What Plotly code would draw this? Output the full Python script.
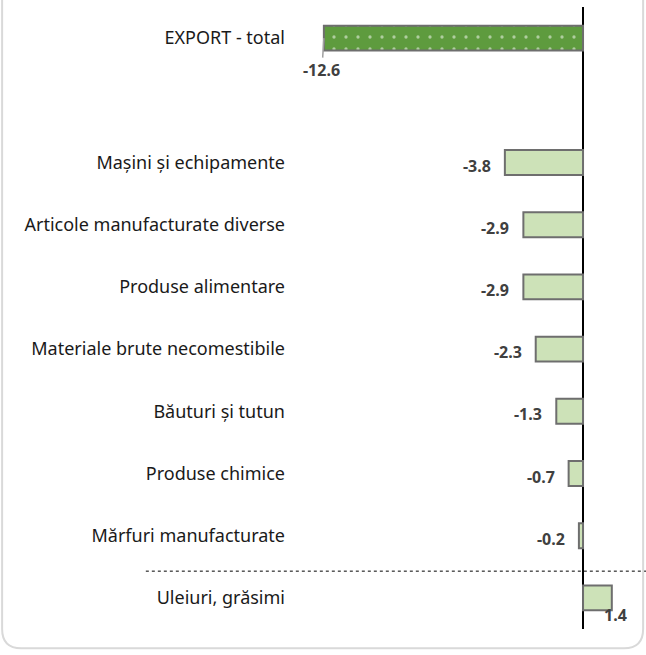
import plotly.graph_objects as go

categories = ["EXPORT - total", " ", "Mașini și echipamente", "Articole manufacturate diverse",
              "Produse alimentare", "Materiale brute necomestibile", "Băuturi și tutun",
              "Produse chimice", "Mărfuri manufacturate", "Uleiuri, grăsimi"]
values = [-12.6, None, -3.8, -2.9, -2.9, -2.3, -1.3, -0.7, -0.2, 1.4]
value_labels = ["-12.6", "", "-3.8", "-2.9", "-2.9", "-2.3", "-1.3", "-0.7", "-0.2", "1.4"]

FONT = "'Noto Sans', 'Open Sans', sans-serif"
TXT = "#404040"

fills = ["#5e9b3e" if c == "EXPORT - total" else "#cde2b8" for c in categories]
shapes_ = ["." if c == "EXPORT - total" else "" for c in categories]

fig = go.Figure(go.Bar(
    x=values,
    y=categories,
    orientation="h",
    width=0.4,
    marker=dict(
        color=fills,
        line=dict(color="#6e6e6e", width=2),
        pattern=dict(shape=shapes_, fgcolor="white", size=12, solidity=0.06,
                     fillmode="overlay"),
    ),
    hoverinfo="x+y",
))

# value labels
for cat, v, lab in zip(categories, values, value_labels):
    if v is None:
        continue
    if cat == "EXPORT - total":
        fig.add_annotation(x=v, y=cat, text=f"<b>{lab}</b>", showarrow=True,
                           arrowhead=0, arrowcolor="#a0a0a0", arrowwidth=1.5,
                           ax=-2, ay=32, font=dict(family=FONT, size=16, color=TXT))
    elif v > 0:
        fig.add_annotation(x=v, y=cat, text=f"<b>{lab}</b>", showarrow=False,
                           xanchor="center", yanchor="middle", xshift=4, yshift=-17,
                           font=dict(family=FONT, size=16, color=TXT))
    else:
        fig.add_annotation(x=v, y=cat, text=f"<b>{lab}</b>", showarrow=False,
                           xanchor="right", yanchor="middle", xshift=-12, yshift=-3,
                           font=dict(family=FONT, size=16, color=TXT))

# dashed separator above the positive category
fig.add_shape(type="line", xref="paper", yref="y", x0=-0.42, x1=1.03, y0=8.57, y1=8.57,
              line=dict(color="#000000", width=1, dash="dot"))

# rounded outer frame
L, R, B, T = -0.833, 1.009, -0.031, 1.05
rx, ry = 0.055, 0.031
frame = (f"M {L},{T} L {L},{B + ry} Q {L},{B} {L + rx},{B} "
         f"L {R - rx},{B} Q {R},{B} {R},{B + ry} L {R},{T}")
fig.add_shape(type="path", xref="paper", yref="paper", path=frame,
              line=dict(color="#d9d9d9", width=2))

fig.update_layout(
    width=646,
    height=655,
    margin=dict(l=292, r=6, t=7, b=26),
    plot_bgcolor="white",
    paper_bgcolor="white",
    showlegend=False,
    font=dict(family=FONT, size=18, color="#1a1a1a"),
    xaxis=dict(range=[-14.15, 2.77], showgrid=False, showticklabels=False,
               zeroline=True, zerolinecolor="black", zerolinewidth=2, fixedrange=True),
    yaxis=dict(categoryorder="array", categoryarray=categories,
               range=[9.5, -0.5], showgrid=False, ticks="", ticklabelstandoff=6,
               tickfont=dict(family=FONT, size=18, color="#1a1a1a")),
)

fig.write_html("out.html", config={"displayModeBar": False},
               post_script="document.body.style.margin='0';")
